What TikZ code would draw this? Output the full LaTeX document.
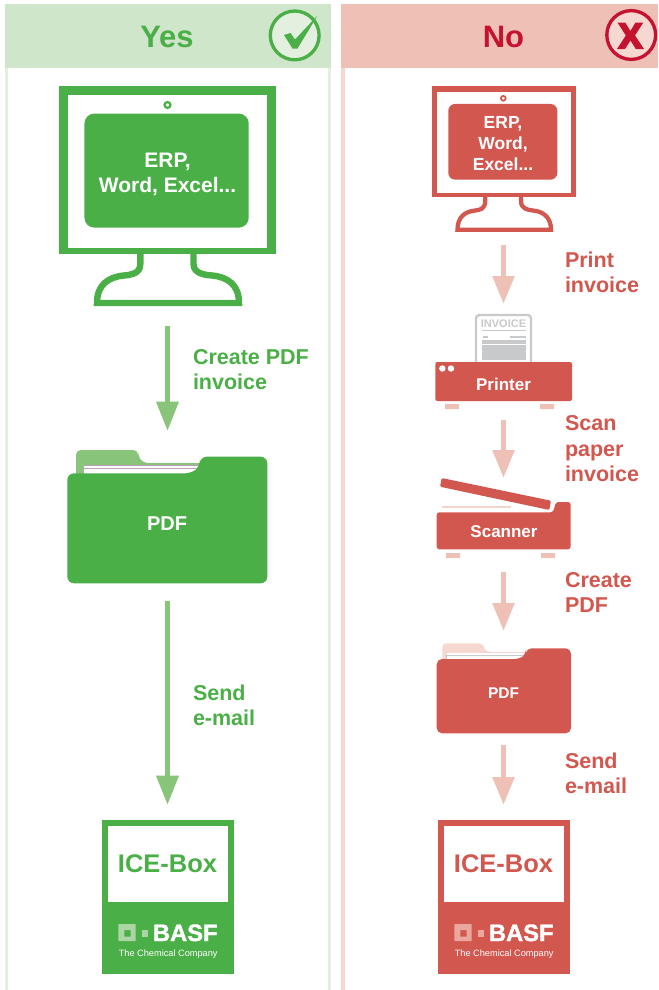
\documentclass[tikz,border=0pt]{standalone}
\usepackage{fontspec}
\setmainfont{Liberation Sans}
\newfontfamily\basffont[UprightFeatures={FakeBold=1.5}]{Liberation Sans Bold}
\usetikzlibrary{arrows.meta,fit}
\definecolor{gMain}{HTML}{4BAF47}
\definecolor{gSoft}{HTML}{88C57B}
\definecolor{gHead}{HTML}{D0E6CB}
\definecolor{gPale}{HTML}{E3F0DF}
\definecolor{gLogo}{HTML}{ABD5A3}
\definecolor{rMain}{HTML}{D2574F}
\definecolor{rSoft}{HTML}{EFC0B6}
\definecolor{rPale}{HTML}{F6D8D0}
\definecolor{rDeep}{HTML}{C4122F}
\definecolor{rLogo}{HTML}{E9A79D}
\definecolor{paperGrey}{HTML}{C8C9CB}
\newcommand{\pxfont}[2]{\fontsize{\the\dimexpr #1pt*3/4\relax}{\the\dimexpr #2pt*3/4\relax}\selectfont}
\tikzset{
  x=0.75pt,y=-0.75pt,
  txt/.style={inner sep=0pt,outer sep=0pt,anchor=base,font=\bfseries},
  lbl/.style={inner sep=0pt,outer sep=0pt,anchor=base west,align=left,font=\bfseries\pxfont{21.5}{25}},
  ghost/.style={inner sep=0pt,outer sep=0pt},
  arrY/.style={draw=gSoft,line width=4.1pt,-{Triangle[length=22pt,width=16pt,fill=gSoft]}},
  arrN/.style={draw=rSoft,line width=4.1pt,-{Triangle[length=21pt,width=15.75pt,fill=rSoft]}},
}
% #1 x offset, #2 main colour, #3 logo colour, #4 name
\newcommand{\IceBox}[4]{
  \begin{scope}[xshift=#1*0.75pt]
    \fill[#2] (102,820) rectangle (234,974);
    \fill[white] (108,826) rectangle (227.5,902);
    \node[txt,text=#2,font=\bfseries\pxfont{25.5}{30}] at (167.5,872.7) {ICE-Box};
    \fill[#3,even odd rule] (118.3,924) rectangle (135.7,941) (124.3,930) rectangle (130.7,936.5);
    \fill[#3] (141.7,929.5) rectangle (148,936.5);
    \node[txt,text=white,anchor=base east,font=\basffont\pxfont{23.7}{28}] at (217.5,941) {BASF};
    \node[txt,text=white,anchor=base east,font=\mdseries\pxfont{9.2}{12}] at (217.5,956.7) {The Chemical Company};
    \node[ghost,fit={(101.5,820)(233.5,974)}] (#4) {};
  \end{scope}
}
\begin{document}
\begin{tikzpicture}
\useasboundingbox (0,0) rectangle (658,990);
% ---- panels
\fill[gPale] (5.3,68) rectangle (7.5,990);
\fill[gPale] (328.3,68) rectangle (330.7,990);
\fill[gHead] (5,4) rectangle (331,68);
\fill[rPale] (341,68) rectangle (344.7,990);
\fill[rSoft] (341,4) rectangle (658,68);
\node[txt,text=gMain,font=\bfseries\pxfont{31}{36}] (yesT) at (167,47) {Yes};
\node[txt,text=rDeep,font=\bfseries\pxfont{31}{36}] (noT) at (503.5,47) {No};
% check badge
\draw[gMain,fill=gPale,line width=2.5pt] (294.7,35.4) circle (24.4);
\fill[gMain] (284,35) -- (290.5,33) -- (295,39.5) -- (317.5,15.5) -- (297.5,48.5) -- (292.5,48.5) -- cycle;
% cross badge
\draw[rDeep,fill=rPale,line width=2.5pt] (631.2,35) circle (24.4);
\fill[rDeep] (617.5,22.5) -- (625.2,22.5) -- (630.4,31) -- (635.5,22.5) -- (643.3,22.5) -- (635,35.5) -- (644,49) -- (635.8,49) -- (630.4,40.5) -- (625,49) -- (617,49) -- (625.8,35.5) -- cycle;

% ---- green monitor
\fill[gMain] (59,86) rectangle (276,254);
\fill[white] (67.5,95) rectangle (267,247.7);
\draw[gMain,fill=white,line width=1.7pt] (167.5,105) circle (2.9);
\node[ghost,fill=gMain,rounded corners=7.5pt,minimum width=123.2pt,minimum height=85.6pt] (scrY) at (166.6,170.6) {};
\node[txt,anchor=center,text=white,align=center,font=\bfseries\pxfont{21}{25}] (scrYt) at (167.5,174.6) {ERP,\\Word, Excel...};
\draw[gMain,line width=4.8pt,miter limit=10] (140.3,254) -- (140.3,264) .. controls (140.3,274) and (130,275) .. (124,275.5) .. controls (108,277) and (97,285) .. (97,303) -- (239,303) .. controls (239,285) and (228,277) .. (212,275.5) .. controls (206,275) and (193.5,274) .. (193.5,264) -- (193.5,254);
\node[ghost,fit={(59,86)(276,306)}] (monY) {};

% ---- green folder
\fill[gSoft,rounded corners=3.5pt] (76,480) -- (76,450) -- (138,450) -- (138,456) -- (143,463) -- (205,463) -- (205,480) -- cycle;
\fill[paperGrey!80!violet] (84,465) rectangle (201,474);
\fill[white] (84,466) rectangle (201,474);
\fill[paperGrey!80!violet] (82.5,468) rectangle (201,474);
\fill[white] (83.5,469.2) rectangle (201,474);
\fill[gMain,rounded corners=5pt] (67.3,583.3) -- (67.3,473.3) -- (192,473.3) -- (200,466) -- (200,456.7) -- (267.3,456.7) -- (267.3,583.3) -- cycle;
\node[txt,text=white,font=\bfseries\pxfont{20}{24}] (pdfYt) at (167,530.7) {PDF};
\node[ghost,fit={(67.5,450)(267.5,583.3)}] (pdfY) {};

% ---- ICE boxes
\IceBox{0}{gMain}{gLogo}{iceY}
\IceBox{336}{rMain}{rLogo}{iceN}

% ---- red monitor
\fill[rMain] (432,85.7) rectangle (575.7,197.3);
\fill[white] (437,91.7) rectangle (570.5,192.7);
\draw[rMain,fill=white,line width=1.3pt] (503.3,98.3) circle (2.4);
\node[ghost,fill=rMain,rounded corners=5.2pt,minimum width=81.8pt,minimum height=56.8pt] (scrN) at (502.8,141.8) {};
\node[txt,text=white,font=\bfseries\pxfont{17.5}{21},align=center,anchor=center] (scrNt) at (503,144) {ERP,\\Word,\\Excel...};
\draw[rMain,line width=3.2pt,miter limit=10] (485.2,197) -- (485.2,201) .. controls (485.2,209) and (480,210) .. (475,210.5) .. controls (465,211.5) and (457.5,217) .. (457.5,229.7) -- (551,229.7) .. controls (551,217) and (543,211.5) .. (533,210.5) .. controls (528,210) and (521,209) .. (521,201) -- (521,197);
\node[ghost,fit={(432,86)(575,232)}] (monN) {};

% ---- printer
\draw[paperGrey,fill=white,line width=1.7pt,rounded corners=2.5pt] (476,366) -- (476,315) -- (531,315) -- (531,366) -- cycle;
\node[txt,text=paperGrey,font=\bfseries\pxfont{11}{14}] (invT) at (503.5,327.3) {INVOICE};
\fill[paperGrey] (482,329.7) rectangle (525.5,330.6);
\fill[paperGrey] (482.7,335.5) rectangle (488,337.7);
\fill[paperGrey] (510,335.5) rectangle (525.5,337.7);
\fill[paperGrey] (482,340) rectangle (525.5,344);
\fill[paperGrey] (482,345) rectangle (525.5,360);
\fill[rMain,rounded corners=1.5pt] (435.3,362) rectangle (572,401);
\fill[white] (442.3,368.5) circle (3.2) (451,368.5) circle (3.2);
\fill[rSoft] (445,404) rectangle (459,409) (540,404) rectangle (554,409);
\node[txt,text=white,font=\bfseries\pxfont{17}{20}] (prnT) at (503.5,390) {Printer};
\node[ghost,fit={(435,314)(572,409)}] (prn) {};

% ---- scanner
\fill[rMain,rounded corners=1pt] (441.7,478) -- (440,486.7) -- (549.3,510) -- (551,500.7) -- cycle;
\fill[rPale!85!rSoft] (441.7,505.7) rectangle (510.7,508.3);
\fill[rMain,rounded corners=2pt] (436.7,549.3) -- (436.7,512.3) -- (553,512.3) -- (556,502) -- (570.7,502) -- (570.7,549.3) -- cycle;
\fill[rSoft] (446,553) rectangle (460,558) (541,553) rectangle (555,558);
\node[txt,text=white,font=\bfseries\pxfont{17}{20}] (scnT) at (504,537.3) {Scanner};
\node[ghost,fit={(436,478)(571,558)}] (scn) {};

% ---- red folder
\fill[rPale,rounded corners=3pt] (442.3,665) -- (442.3,643.3) -- (483.3,643.3) -- (483.3,648) -- (487,652) -- (530,652) -- (530,665) -- cycle;
\fill[paperGrey] (447,652.6) rectangle (527,660);
\fill[white] (447,653.4) rectangle (527,660);
\fill[paperGrey] (446,654.8) rectangle (527,660);
\fill[white] (446.8,655.8) rectangle (527,660);
\fill[rMain,rounded corners=4pt] (436.7,733.3) -- (436.7,659) -- (520,659) -- (526,654) -- (526,648.3) -- (571,648.3) -- (571,733.3) -- cycle;
\node[txt,text=white,font=\bfseries\pxfont{15.5}{18}] (pdfNt) at (503.5,698.2) {PDF};
\node[ghost,fit={(436,643)(571,733.3)}] (pdfN) {};

% ---- connectors
\draw[arrY,shorten <=15pt,shorten >=14.25pt] (monY.south) -- (pdfY.north);
\draw[arrY,shorten <=13.25pt,shorten >=11.25pt] (pdfY.south) -- (iceY.north);
\draw[arrN,shorten <=9.75pt,shorten >=7.5pt] (monN.south) -- (prn.north);
\draw[arrN,shorten <=8.25pt,shorten >=0pt] (prn.south) -- (scn.north);
\draw[arrN,shorten <=10.5pt,shorten >=9pt] (scn.south) -- (pdfN.north);
\draw[arrN,shorten <=9pt,shorten >=11.25pt] (pdfN.south) -- (iceN.north);

% ---- labels
\node[lbl,text=gMain] (l1) at (193,364) {Create PDF};
\node[lbl,text=gMain] (l1b) at (193,389) {invoice};
\node[lbl,text=gMain] (l2) at (193,700) {Send};
\node[lbl,text=gMain] (l2b) at (193,725) {e-mail};
\node[lbl,text=rMain] (r1) at (565,267) {Print};
\node[lbl,text=rMain] (r1b) at (565,292) {invoice};
\node[lbl,text=rMain] (r2) at (565,430) {Scan};
\node[lbl,text=rMain] (r2b) at (565,456) {paper};
\node[lbl,text=rMain] (r2c) at (565,481) {invoice};
\node[lbl,text=rMain] (r3) at (565,587) {Create};
\node[lbl,text=rMain] (r3b) at (565,612) {PDF};
\node[lbl,text=rMain] (r4) at (565,768) {Send};
\node[lbl,text=rMain] (r4b) at (565,793) {e-mail};
\end{tikzpicture}
\end{document}
